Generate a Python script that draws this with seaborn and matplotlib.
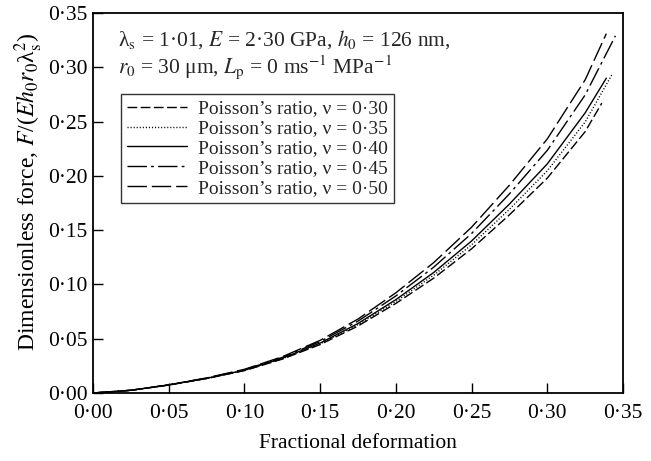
import matplotlib
matplotlib.use("Agg")
import matplotlib.pyplot as plt
import seaborn as sns
import pandas as pd

# ---- data ----
x_grid = [0.000, 0.025, 0.050, 0.075, 0.100, 0.125, 0.150, 0.175,
          0.200, 0.225, 0.250, 0.275, 0.300, 0.325]
end_x = {"0·30": 0.336, "0·35": 0.343, "0·40": 0.339, "0·45": 0.345, "0·50": 0.339}

y_030 = [0, 0.0025, 0.0073, 0.0133, 0.0206, 0.0312, 0.0446, 0.0617,
         0.0825, 0.1058, 0.1328, 0.1641, 0.1979, 0.2407, 0.267]
y_035 = [0, 0.0025, 0.0074, 0.0134, 0.0208, 0.0316, 0.0453, 0.0629,
         0.0843, 0.1085, 0.1365, 0.1692, 0.2047, 0.2496, 0.294]
y_040 = [0, 0.0025, 0.0074, 0.0135, 0.0210, 0.0320, 0.0460, 0.0640,
         0.0860, 0.1110, 0.1400, 0.1740, 0.2110, 0.2580, 0.290]
y_045 = [0, 0.0025, 0.0075, 0.0137, 0.0214, 0.0328, 0.0474, 0.0662,
         0.0894, 0.1159, 0.1469, 0.1834, 0.2235, 0.2745, 0.329]
y_050 = [0, 0.0025, 0.0075, 0.0139, 0.0218, 0.0334, 0.0485, 0.0681,
         0.0923, 0.1201, 0.1527, 0.1914, 0.2340, 0.2884, 0.331]

nus = ["0·30", "0·35", "0·40", "0·45", "0·50"]
ys = [y_030, y_035, y_040, y_045, y_050]

x_ticks = [0.00, 0.05, 0.10, 0.15, 0.20, 0.25, 0.30, 0.35]
tick_labels = ["0·00", "0·05", "0·10", "0·15", "0·20", "0·25", "0·30", "0·35"]

# ---- style ----
sns.set_theme(style="white")
plt.rcParams["font.family"] = ["Liberation Serif", "DejaVu Serif"]
plt.rcParams["mathtext.fontset"] = "stix"

styles = {
    "0·30": (0, (7, 2.5)),
    "0·35": (0, (0.8, 1.4)),
    "0·40": "-",
    "0·45": (0, (14, 3, 2, 3)),
    "0·50": (0, (14, 3.5)),
}

fig = plt.figure(figsize=(6.51, 4.61), dpi=100)
ax = fig.add_axes([93 / 651, 1 - 393 / 461, 530 / 651, 380 / 461])

for nu, yv in zip(nus, ys):
    xs = x_grid + [end_x[nu]]
    df = pd.DataFrame({"x": xs, "y": yv})
    sns.lineplot(data=df, x="x", y="y", ax=ax, color="black", lw=1.0,
                 linestyle=styles[nu], label=f"Poisson’s ratio, ν = {nu}",
                 sort=False)

ax.set_xlim(0, 0.35)
ax.set_ylim(0, 0.35)
ax.set_xticks(x_ticks)
ax.set_xticklabels(tick_labels)
ax.set_yticks(x_ticks)
ax.set_yticklabels(tick_labels)
ax.tick_params(axis="both", direction="in", length=7, width=1.0,
               labelsize=15.5, colors="black",
               bottom=True, left=True, top=False, right=False)
ax.tick_params(axis="x", pad=8)
ax.tick_params(axis="y", pad=4)
for sp in ax.spines.values():
    sp.set_color("black")
    sp.set_linewidth(1.3)

ax.set_xlabel("Fractional deformation", fontsize=15.5, color="black", labelpad=8)
ax.set_ylabel("Dimensionless force, $F$/($Eh_0r_0$λ$_{\\rm s}^2$)",
              fontsize=17, color="black")
ax.yaxis.set_label_coords(-0.09, 0.53)

ax.text(0.047, 0.93, "λ$_{\\rm s}$ = 1·01, $E$ = 2·30 GPa, $h_0$ = 126 nm,",
        transform=ax.transAxes, fontsize=15.5, va="center", ha="left")
ax.text(0.047, 0.857, "$r_0$ = 30 μm, $L_{\\rm p}$ = 0 ms$^{-1}$ MPa$^{-1}$",
        transform=ax.transAxes, fontsize=15.5, va="center", ha="left")

leg = ax.legend(loc="upper left", bbox_to_anchor=(0.053, 0.787),
                borderaxespad=0, fontsize=14, frameon=True, fancybox=False,
                handlelength=3.1, handletextpad=0.55, labelspacing=0.12,
                borderpad=0.3)
leg.get_frame().set_edgecolor("black")
leg.get_frame().set_linewidth(1.0)

fig.savefig("out.png", dpi=100)
